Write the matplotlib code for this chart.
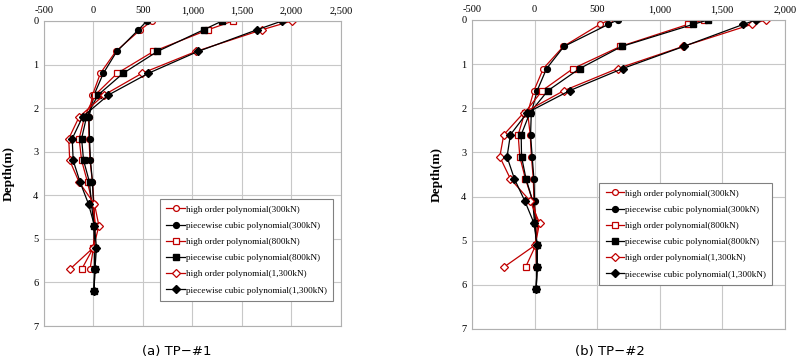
import matplotlib.pyplot as plt
from matplotlib.ticker import FuncFormatter

# depths (m)
depth_a = [0, 0.2, 0.7, 1.2, 1.7, 2.2, 2.7, 3.2, 3.7, 4.2, 4.7, 5.2, 5.7, 6.2]
depth_b = [0, 0.1, 0.6, 1.1, 1.6, 2.1, 2.6, 3.1, 3.6, 4.1, 4.6, 5.1, 5.6, 6.1]

# TP-#1 (high order polynomial stops one point earlier)
a_hop300 = [590, 475, 225, 70, -10, -50, -45, -35, -10, 5, 15, 0, -35]
a_pcp300 = [540, 455, 235, 100, 5, -45, -40, -30, -10, 0, 5, 10, 10, 5]
a_hop800 = [1410, 1160, 605, 240, 15, -90, -145, -120, -60, -10, 20, 0, -120]
a_pcp800 = [1300, 1115, 645, 300, 45, -70, -120, -100, -40, -20, 5, 15, 15, 5]
a_hop1300 = [2005, 1705, 1035, 490, 105, -145, -250, -240, -145, 10, 55, 0, -240]
a_pcp1300 = [1905, 1655, 1055, 555, 150, -110, -215, -205, -135, -50, 10, 30, 15, 5]

# TP-#2
b_hop300 = [597, 521, 230, 70, -5, -55, -35, -25, -10, -5, 10, 10, 15]
b_pcp300 = [664, 589, 235, 96, 21, -26, -32, -19, -5, 0, 5, 20, 20, 13]
b_hop800 = [1354, 1226, 685, 308, 61, -78, -131, -118, -73, -15, 25, 10, -72]
b_pcp800 = [1386, 1266, 696, 361, 107, -37, -107, -104, -68, -15, 0, 20, 20, 13]
b_hop1300 = [1847, 1735, 1185, 664, 235, -86, -246, -278, -193, -35, 40, 5, -246]
b_pcp1300 = [1769, 1668, 1191, 704, 281, -59, -193, -220, -161, -78, -5, 20, 20, 13]

labels = ["high order polynomial(300kN)", "piecewise cubic polynomial(300kN)",
          "high order polynomial(800kN)", "piecewise cubic polynomial(800kN)",
          "high order polynomial(1,300kN)", "piecewise cubic polynomial(1,300kN)"]

RED = "#C00000"
serif = "Liberation Serif"


def draw(ax, depth, series, xmax):
    markers = ["o", "o", "s", "s", "D", "D"]
    sizes = [4.2, 4.2, 4.2, 4.8, 4, 4.4]
    for i, (vals, m, ms) in enumerate(zip(series, markers, sizes)):
        d = depth[:len(vals)]
        if i % 2 == 0:
            ax.plot(vals, d, color=RED, lw=0.9, marker=m, ms=ms,
                    mfc="white", mec=RED, mew=0.9, label=labels[i])
        else:
            ax.plot(vals, d, color="black", lw=0.9, marker=m, ms=ms,
                    mfc="black", mec="black", label=labels[i])
    ax.set_xlim(-500, xmax)
    ax.set_ylim(7, 0)
    ax.set_xticks(range(-500, xmax + 1, 500))
    ax.set_yticks(range(0, 8))
    ax.xaxis.set_major_formatter(FuncFormatter(lambda v, p: f"{int(v):,}"))
    ax.xaxis.tick_top()
    ax.tick_params(length=0, labelsize=7.5, pad=4)
    for t in ax.get_xticklabels() + ax.get_yticklabels():
        t.set_fontfamily(serif)
    ax.grid(True, color="#c8c8c8", lw=0.8)
    ax.set_axisbelow(True)
    for s in ax.spines.values():
        s.set_color("#b0b0b0")
        s.set_linewidth(0.8)
    ax.set_ylabel("Depth(m)", fontfamily=serif, fontweight="bold",
                  fontsize=9.5, labelpad=13)


fig = plt.figure(figsize=(8, 3.62), dpi=100)
ax1 = fig.add_axes([0.055, 0.0994, 0.371, 0.8426])
ax2 = fig.add_axes([0.59, 0.0912, 0.391, 0.8536])

draw(ax1, depth_a, [a_hop300, a_pcp300, a_hop800, a_pcp800, a_hop1300, a_pcp1300], 2500)
draw(ax2, depth_b, [b_hop300, b_pcp300, b_hop800, b_pcp800, b_hop1300, b_pcp1300], 2000)

for ax, anchor in [(ax1, (0.2, 0.451)), (ax2, (0.749, 0.495))]:
    leg = ax.legend(loc="upper left", bbox_to_anchor=anchor,
                    bbox_transform=fig.transFigure, fancybox=False,
                    prop={"family": serif, "size": 6.6}, handlelength=2.0,
                    handletextpad=0.1, labelspacing=0.85, borderpad=0.7,
                    borderaxespad=0, framealpha=1)
    leg.get_frame().set_edgecolor("#808080")
    leg.get_frame().set_linewidth(0.8)

fig.text(0.221, 0.03, "(a) TP\u2212#1", ha="center", va="center", fontsize=9.5)
fig.text(0.762, 0.03, "(b) TP\u2212#2", ha="center", va="center", fontsize=9.5)

fig.savefig("out.png", dpi=100)
